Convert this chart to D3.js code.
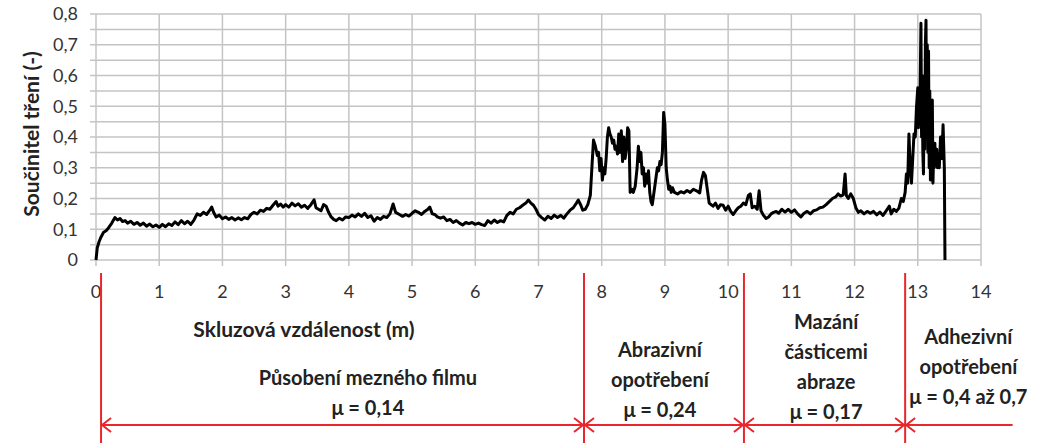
<!DOCTYPE html>
<html><head><meta charset="utf-8">
<script src="https://cdn.jsdelivr.net/npm/d3@7"></script>
<style>
html,body{margin:0;padding:0;background:#fff;}
svg{display:block;font-family:Lato,"Open Sans",sans-serif;}
</style></head>
<body>
<svg id="chart" width="1047" height="443"></svg>
<script>
// ---- data ----
const distance = [0,0.02,0.05,0.08,0.12,0.16,0.2,0.25,0.3,0.34,0.38,0.42,0.46,0.5,0.55,0.6,0.65,0.7,0.75,0.8,0.85,0.9,0.95,1.0,1.05,1.1,1.15,1.2,1.25,1.3,1.35,1.4,1.45,1.5,1.55,1.6,1.65,1.7,1.75,1.8,1.83,1.86,1.9,1.95,2.0,2.05,2.1,2.15,2.2,2.25,2.3,2.35,2.4,2.45,2.5,2.55,2.6,2.65,2.7,2.75,2.8,2.85,2.88,2.92,2.96,3.0,3.05,3.1,3.15,3.2,3.25,3.3,3.35,3.4,3.45,3.48,3.52,3.56,3.6,3.64,3.68,3.72,3.76,3.8,3.85,3.9,3.95,4.0,
4.05,4.1,4.15,4.2,4.25,4.3,4.35,4.4,4.45,4.5,4.55,4.6,4.65,4.7,4.74,4.8,4.85,4.9,4.95,5.0,5.05,5.1,5.15,5.2,5.25,5.28,5.32,5.36,5.4,5.45,5.5,5.55,5.6,5.65,5.7,5.75,5.8,5.85,5.9,5.95,6.0,6.05,6.1,6.15,6.2,6.25,6.3,6.35,6.4,6.45,6.5,6.55,6.6,6.65,6.7,6.75,6.8,6.84,6.88,6.92,6.96,7.0,7.05,7.1,7.15,7.2,7.25,7.3,7.35,7.4,7.45,7.5,7.55,7.6,7.63,7.67,7.7,7.74,7.78,7.82,7.85,7.87,7.9,7.93,7.95,7.97,7.99,8.01,8.03,8.05,8.07,8.09,8.11,8.13,8.15,8.17,8.19,8.21,8.23,8.25,8.27,8.29,8.31,8.33,8.35,8.37,8.39,8.41,8.43,8.45,8.48,8.5,8.53,8.56,8.58,8.6,8.62,8.64,8.66,8.68,8.7,8.72,8.74,8.76,8.78,8.8,8.82,8.84,8.86,8.88,8.9,8.92,8.94,8.96,8.98,9.0,9.02,9.04,9.06,9.08,9.1,9.12,9.15,9.2,9.25,9.3,9.35,9.4,9.45,9.5,9.55,9.58,9.61,9.64,9.67,9.7,9.73,9.76,9.8,9.84,9.88,9.92,9.96,10.0,10.04,10.08,10.12,10.16,10.2,10.24,10.28,10.32,10.35,10.38,10.42,10.46,10.49,10.52,10.56,10.6,10.64,10.68,10.72,10.76,10.8,10.85,10.9,10.95,11.0,11.05,11.1,11.15,11.2,11.25,11.3,11.35,11.4,11.45,11.5,11.55,11.6,11.65,11.7,11.74,11.78,11.82,11.85,11.87,11.9,11.94,11.98,12.02,12.06,12.1,12.15,12.2,12.25,12.3,12.35,12.4,12.45,12.5,12.55,12.58,12.62,12.66,12.7,12.74,12.77,12.8,12.82,12.84,12.86,12.88,12.9,12.92,12.94,12.96,12.98,13.0,13.01,13.02,13.03,13.05,13.06,13.07,13.08,13.09,13.1,13.11,13.12,13.13,13.14,13.15,13.16,13.17,13.18,13.19,13.2,13.21,13.22,13.23,13.24,13.25,13.26,13.27,13.28,13.3,13.31,13.32,13.34,13.36,13.38,13.4,13.42,13.43];
const friction = [0,0.04,0.06,0.075,0.09,0.095,0.105,0.12,0.138,0.13,0.135,0.125,0.128,0.12,0.126,0.116,0.122,0.113,0.12,0.11,0.117,0.108,0.114,0.106,0.116,0.108,0.118,0.112,0.124,0.115,0.128,0.118,0.126,0.116,0.13,0.15,0.145,0.155,0.148,0.162,0.172,0.155,0.14,0.146,0.134,0.14,0.132,0.138,0.13,0.137,0.131,0.138,0.134,0.148,0.155,0.15,0.162,0.158,0.168,0.165,0.178,0.19,0.175,0.182,0.172,0.18,0.172,0.185,0.176,0.183,0.172,0.178,0.168,0.18,0.196,0.17,0.165,0.16,0.18,0.175,0.155,0.14,0.132,0.128,0.136,0.13,0.14,0.138,
0.146,0.14,0.15,0.142,0.152,0.138,0.144,0.126,0.138,0.132,0.142,0.138,0.15,0.182,0.155,0.148,0.142,0.148,0.143,0.152,0.16,0.155,0.148,0.158,0.165,0.172,0.15,0.148,0.14,0.136,0.14,0.128,0.132,0.122,0.128,0.12,0.114,0.122,0.118,0.122,0.116,0.12,0.115,0.112,0.128,0.12,0.13,0.122,0.128,0.124,0.145,0.155,0.15,0.165,0.17,0.178,0.185,0.195,0.185,0.178,0.165,0.148,0.138,0.13,0.142,0.135,0.146,0.138,0.145,0.136,0.15,0.162,0.17,0.185,0.195,0.178,0.162,0.165,0.18,0.21,0.32,0.39,0.37,0.34,0.35,0.29,0.33,0.26,0.3,0.28,0.33,0.4,0.43,0.41,0.4,0.38,0.39,0.36,0.37,0.345,0.41,0.35,0.42,0.32,0.4,0.33,0.36,0.43,0.42,0.22,0.23,0.22,0.24,0.3,0.37,0.32,0.35,0.28,0.3,0.24,0.28,0.25,0.29,0.22,0.19,0.18,0.21,0.24,0.27,0.3,0.29,0.32,0.31,0.35,0.48,0.44,0.3,0.26,0.23,0.24,0.22,0.235,0.22,0.215,0.222,0.218,0.226,0.22,0.23,0.225,0.218,0.26,0.285,0.275,0.23,0.185,0.18,0.175,0.185,0.168,0.18,0.178,0.162,0.175,0.158,0.148,0.16,0.17,0.175,0.185,0.18,0.21,0.215,0.17,0.175,0.165,0.225,0.16,0.145,0.135,0.14,0.15,0.155,0.158,0.152,0.165,0.156,0.165,0.155,0.163,0.15,0.14,0.152,0.158,0.15,0.16,0.163,0.17,0.172,0.18,0.19,0.2,0.205,0.215,0.208,0.212,0.28,0.21,0.2,0.215,0.2,0.17,0.155,0.16,0.15,0.158,0.152,0.158,0.147,0.156,0.145,0.16,0.175,0.15,0.165,0.158,0.168,0.2,0.19,0.22,0.28,0.25,0.41,0.3,0.25,0.33,0.41,0.4,0.5,0.56,0.43,0.52,0.45,0.77,0.4,0.6,0.35,0.28,0.5,0.36,0.7,0.78,0.4,0.7,0.35,0.68,0.3,0.55,0.26,0.5,0.32,0.52,0.25,0.34,0.3,0.38,0.31,0.36,0.3,0.33,0.3,0.4,0.33,0.44,0.3,0];

const xTicks = [0,1,2,3,4,5,6,7,8,9,10,11,12,13,14];
const yTicks = [0,0.1,0.2,0.3,0.4,0.5,0.6,0.7,0.8];
const yMinorGrid = [0,0.05,0.1,0.15,0.2,0.25,0.3,0.35,0.4,0.45,0.5,0.55,0.6,0.65,0.7,0.75,0.8];
const xTitle = "Skluzová vzdálenost (m)";
const yTitle = "Součinitel tření (-)";
const zoneBounds = [0.08, 7.72, 10.25, 12.8];
const zoneEnd = 14.5;
const zoneLabels = [
  ["Působení mezného filmu", "μ = 0,14"],
  ["Abrazivní", "opotřebení", "μ = 0,24"],
  ["Mazání", "částicemi", "abraze", "μ = 0,17"],
  ["Adhezivní", "opotřebení", "μ = 0,4 až 0,7"]
];

// ---- drawing ----
const svg = d3.select("#chart");
const x = d3.scaleLinear().domain([0,14]).range([96,981]);
const y = d3.scaleLinear().domain([0,0.8]).range([260,14]);

// horizontal grid
svg.append("g").selectAll("line").data(yMinorGrid).join("line")
  .attr("x1", x(0)-6).attr("x2", x(14))
  .attr("y1", d => y(d)).attr("y2", d => y(d))
  .attr("stroke", "#c4c4c4").attr("stroke-width", 1.5);
// vertical grid
svg.append("g").selectAll("line").data(xTicks).join("line")
  .attr("x1", d => x(d)).attr("x2", d => x(d))
  .attr("y1", y(0.8)).attr("y2", y(0)+6)
  .attr("stroke", "#c4c4c4").attr("stroke-width", 1.5);

// y tick labels
svg.append("g").selectAll("text").data(yTicks).join("text")
  .attr("x", 78).attr("y", d => y(d)).attr("dy", "0.35em")
  .attr("text-anchor", "end").attr("font-size", 18).attr("fill", "#333")
  .text(d => d === 0 ? "0" : d3.format(".1f")(d).replace(".", ","));
// x tick labels
svg.append("g").selectAll("text").data(xTicks).join("text")
  .attr("x", d => x(d)).attr("y", 292).attr("dy", "0.35em")
  .attr("text-anchor", "middle").attr("font-size", 18).attr("fill", "#333")
  .text(d => d);

// axis titles
svg.append("text").attr("transform", "translate(32,134) rotate(-90)")
  .attr("dy", "0.35em").attr("text-anchor", "middle")
  .attr("font-size", 21).attr("font-weight", "bold").attr("fill", "#222")
  .text(yTitle);
svg.append("text").attr("x", 304).attr("y", 330).attr("dy", "0.35em")
  .attr("text-anchor", "middle").attr("font-size", 21).attr("font-weight", "bold").attr("fill", "#222")
  .text(xTitle);

// data line
const pts = distance.map((d,i) => [d, friction[i]]);
svg.append("path").datum(pts)
  .attr("fill", "none").attr("stroke", "#000").attr("stroke-width", 3)
  .attr("stroke-linejoin", "round")
  .attr("d", d3.line().x(d => x(d[0])).y(d => y(d[1])));

// red zone annotations
const red = "#e8262b";
const ga = svg.append("g").attr("stroke", red).attr("stroke-width", 2).attr("fill", "none");
zoneBounds.forEach(b => {
  ga.append("line").attr("x1", x(b)).attr("x2", x(b)).attr("y1", 273).attr("y2", 443);
});
const ay = 425;
ga.append("line").attr("x1", x(zoneBounds[0])).attr("x2", x(zoneEnd)).attr("y1", ay).attr("y2", ay);
const ah = 10, av = 7;
zoneBounds.forEach((b, i) => {
  const bx = x(b);
  ga.append("path").attr("d", `M${bx+ah},${ay-av} L${bx+1},${ay} L${bx+ah},${ay+av}`);
  if (i > 0) ga.append("path").attr("d", `M${bx-ah},${ay-av} L${bx-1},${ay} L${bx-ah},${ay+av}`);
});

// zone labels
const labelCx = [4.3, 8.92, 11.55, 13.8];
const labelTop = [378, 350, 322, 337];
zoneLabels.forEach((lines, i) => {
  const t = svg.append("text").attr("text-anchor", "middle")
    .attr("font-size", 20).attr("font-weight", "bold").attr("fill", "#222");
  lines.forEach((ln, j) => {
    t.append("tspan").attr("x", x(labelCx[i])).attr("y", labelTop[i] + j*30).attr("dy", "0.35em").text(ln);
  });
});
</script>
</body></html>
